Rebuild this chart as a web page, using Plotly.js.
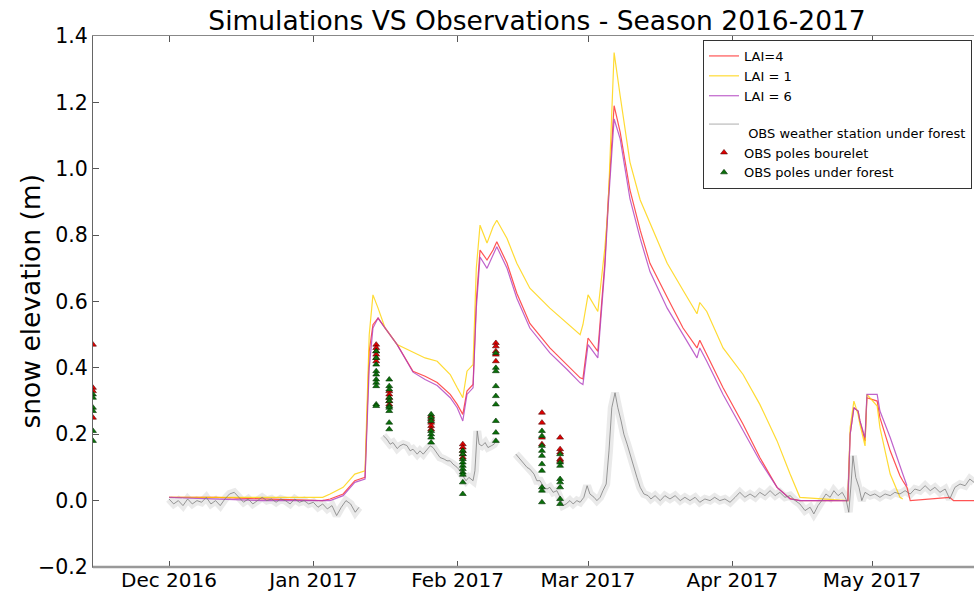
<!DOCTYPE html>
<html>
<head>
<meta charset="utf-8">
<script src="https://cdn.plot.ly/plotly-3.0.1.min.js"></script>
<style>html,body{margin:0;padding:0;background:#fff;}#chart{width:974px;height:592px;}</style>
</head>
<body>
<div id="chart"></div>
<script>
// ---- DATA (x values are days counted from 2016-12-01) ----
const monthTickDates = ['2016-12-01','2017-01-01','2017-02-01','2017-03-01','2017-04-01','2017-05-01'];
const monthTickLabels = ['Dec 2016','Jan 2017','Feb 2017','Mar 2017','Apr 2017','May 2017'];
const xRangeDays = [-16.33, 172.9];

const simDays = [0,10,20,33,34.6, 37.4,39.9,42.1,43.0,43.8, 44.9,46.4,49.0,52.4,55.0, 57.6,60.4,61.9,63.1,64.0,
  65.3,66.0,66.8,68.3,69.6, 70.4,72.6,74.7,77.5,81.8, 85.5,88.3,88.9,90.0,92.1, 93.6,94.3,95.6,96.9,99.0,
  101.2,103.3,107.0,110.4,113.4, 114.0,115.5,119.0,123.3,126.9, 130.6,133.4,135.5,145.8,146.3, 147.1,148.0,148.4,149.5,149.9,
  152.1,152.7,154.9,157.0,157.6, 158.5,159.2,167.7,168.5,173];

const lai4 = [0.01,0.01,0.005,0.0,0.005, 0.02,0.06,0.07,0.45,0.53, 0.55,0.52,0.47,0.39,0.375, 0.356,0.32,0.29,0.26,0.33,
  0.35,0.6,0.755,0.725,0.755, 0.78,0.715,0.625,0.534,0.46, 0.41,0.37,0.367,0.49,0.45, 0.715,0.9,1.19,1.11,0.936,
  0.815,0.715,0.613,0.52,0.46, 0.483,0.44,0.34,0.23,0.13, 0.04,0.006,0.0,0.0,0.2, 0.28,0.27,0.24,0.18,0.31,
  0.30,0.25,0.15,0.075,0.06, 0.04,0.0,0.01,0.0,0.0];

const lai1 = [0.01,0.01,0.01,0.01,0.02, 0.04,0.08,0.09,0.5,0.62, 0.58,0.52,0.47,0.447,0.43, 0.42,0.38,0.34,0.31,0.39,
  0.41,0.7,0.83,0.776,0.825, 0.845,0.79,0.715,0.64,0.58, 0.534,0.5,0.53,0.62,0.57, 0.76,0.88,1.35,1.22,1.02,
  0.906,0.835,0.715,0.634,0.563, 0.597,0.57,0.46,0.38,0.29, 0.18,0.08,0.01,0.0,0.22, 0.30,0.26,0.23,0.165,0.32,
  0.285,0.22,0.08,0.01,0.005, null,null,null,null,null];

const lai6 = [0.01,0.005,0.0,0.0,0.0, 0.015,0.055,0.065,0.4,0.52, 0.55,0.52,0.47,0.387,0.365, 0.347,0.31,0.28,0.24,0.32,
  0.34,0.58,0.734,0.70,0.74, 0.765,0.70,0.61,0.52,0.445, 0.395,0.355,0.35,0.47,0.43, 0.70,0.88,1.15,1.09,0.91,
  0.79,0.69,0.58,0.50,0.43, 0.46,0.42,0.32,0.21,0.12, 0.04,0.005,0.0,0.0,0.2, 0.28,0.27,0.24,0.19,0.32,
  0.32,0.27,0.19,0.1,0.08, 0.045,null,null,null,null];

// weather station (null = data gap)
const obsDays = [0,1,2,3,4,5,6,7,8,9,10,11,12,13,14,15,16,17,18,19,20,21,22,23,24,25,26,27,28,29,30,31,32,33,34,35,36,37,38,39,40,40.8,
  43.5,
  46.0,46.8,47.5,48.1,49.0,49.6,50.3,51.1,51.8,52.4,53.3,53.9,54.6,55.4,56.1,56.7,57.6,58.2,59.1,59.7,60.4,61.0,61.9,62.5,63.1,63.8,64.4,65.3,65.7,66.2,66.6,67.2,67.9,68.5,69.2,69.8,70.4,
  72.5,
  74.5,75.4,76.2,76.9,77.5,78.4,79.0,79.7,80.5,81.2,81.8,82.5,83.3,84.0,84.6,85.3,86.1,86.8,87.6,88.3,89.1,89.8,90.4,91.3,91.9,92.6,93.2,93.9,94.5,95.1,95.8,96.4,97.1,97.7,98.4,99.0,99.9,100.5,101.2,102.0,102.9,
  103.5,104.4,105.5,106.5,107.6,108.7,109.8,110.8,111.9,113.0,114.0,115.1,116.2,117.2,118.3,119.4,120.5,121.6,122.6,123.7,124.8,125.9,126.9,128.0,129.1,130.2,131.2,132.3,133.4,134.5,135.5,136.6,137.7,138.5,139.4,140.2,141.1,142.0,142.8,143.7,144.6,145.4,146.0,146.5,146.9,147.5,148.2,148.8,149.5,150.6,151.6,152.7,153.8,154.9,155.9,157.0,158.1,159.2,160.2,161.3,162.4,163.5,164.5,165.6,166.7,167.7,168.8,169.9,171.0,172.0,172.9];
const obsValues = [0.005,-0.01,0.0,-0.015,0.005,-0.01,0.0,-0.005,0.01,-0.01,0.0,-0.015,0.005,0.02,0.025,0.01,-0.005,0.005,-0.01,0.0,0.01,0.0,0.005,-0.005,0.005,0.0,-0.01,0.005,-0.005,0.0,-0.01,-0.005,-0.02,-0.01,-0.025,-0.015,-0.045,-0.02,0.0,-0.01,-0.035,-0.02,
  null,
  0.196,0.185,0.17,0.175,0.157,0.165,0.17,0.166,0.15,0.155,0.14,0.15,0.14,0.155,0.165,0.16,0.14,0.13,0.125,0.12,0.12,0.11,0.1,0.09,0.075,0.06,0.07,0.06,0.09,0.21,0.17,0.165,0.175,0.16,0.165,0.17,0.185,
  null,
  0.14,0.125,0.115,0.1,0.095,0.08,0.06,0.06,0.04,0.035,0.04,0.025,0.03,0.01,-0.015,-0.01,0.0,-0.01,0.0,-0.005,0.01,0.045,0.02,0.01,0.0,0.01,0.03,0.05,0.15,0.28,0.325,0.28,0.24,0.2,0.17,0.14,0.1,0.07,0.04,0.02,0.015,
  0.005,0.015,0.0,0.015,0.005,0.015,0.0,0.01,0.0,0.01,-0.005,0.005,0.0,0.01,0.0,0.005,-0.005,0.01,0.025,0.01,0.02,0.01,0.025,0.015,0.03,0.015,0.025,0.01,0.015,0.0,-0.01,-0.03,-0.02,-0.04,-0.015,0.0,0.02,0.01,0.03,0.015,0.025,0.005,-0.035,0.05,0.135,0.07,0.04,0.0,0.025,0.015,0.02,0.01,0.02,0.015,0.025,0.02,0.03,0.02,0.035,0.03,0.045,0.03,0.04,0.025,0.035,0.005,0.04,0.05,0.045,0.065,0.055];

// snow poles: one measurement day per group, several poles per day
const poleDays = [-16.33, 44.5, 47.3, 56.3, 63.1, 70.2, 80.1, 84.0];
const polesBourelet = [
  [0.47,0.34,0.33,0.25],
  [0.47,0.46,0.45,0.44,0.43,0.42],
  [0.33,0.32,0.31,0.30,0.29],
  [0.255,0.245,0.235,0.225,0.215],
  [0.17,0.16,0.15,0.14,0.13],
  [0.475,0.465,0.45,0.44,0.42],
  [0.265,0.235,0.19,0.17],
  [0.19,0.155,0.145,0.125,0.12]
];
const polesForest = [
  [0.32,0.31,0.28,0.27,0.21,0.18],
  [0.45,0.43,0.41,0.39,0.38,0.365,0.355,0.345,0.29,0.285],
  [0.365,0.345,0.335,0.31,0.30,0.285,0.28,0.27,0.235,0.215],
  [0.26,0.25,0.24,0.21,0.20,0.19,0.175],
  [0.15,0.14,0.125,0.115,0.105,0.095,0.085,0.078,0.055,0.02],
  [0.445,0.40,0.39,0.345,0.315,0.29,0.24,0.205,0.18],
  [0.21,0.195,0.165,0.15,0.135,0.11,0.09,0.04,0.03,-0.005],
  [0.14,0.115,0.105,0.065,0.055,0.04,0.005,-0.01]
];

// ---- helpers ----
const ORIGIN = Date.UTC(2016, 11, 1);
function pad(n){ return (n < 10 ? '0' : '') + n; }
function dayToDate(d){
  const t = new Date(ORIGIN + d * 86400000);
  return t.getUTCFullYear() + '-' + pad(t.getUTCMonth()+1) + '-' + pad(t.getUTCDate()) + ' ' +
         pad(t.getUTCHours()) + ':' + pad(t.getUTCMinutes()) + ':' + pad(t.getUTCSeconds());
}
function expandPoles(days, groups){
  const xs = [], ys = [];
  groups.forEach((g, i) => g.forEach(v => { xs.push(dayToDate(days[i])); ys.push(v); }));
  return {xs, ys};
}
const simX = simDays.map(dayToDate);
const obsX = obsDays.map(dayToDate);
const pb = expandPoles(poleDays, polesBourelet);
const pf = expandPoles(poleDays, polesForest);

const FONT = 'DejaVu Sans, sans-serif';

const traces = [
  {x: obsX, y: obsValues, type: 'scatter', mode: 'lines', showlegend: false, hoverinfo: 'skip',
   line: {color: 'rgba(205,205,205,0.42)', width: 8}},
  {x: simX, y: lai4, type: 'scatter', mode: 'lines', name: 'LAI=4',
   line: {color: 'rgba(255,40,40,0.8)', width: 1.2}},
  {x: simX, y: lai1, type: 'scatter', mode: 'lines', name: 'LAI = 1',
   line: {color: 'rgba(255,210,0,0.8)', width: 1.2}},
  {x: simX, y: lai6, type: 'scatter', mode: 'lines', name: 'LAI = 6',
   line: {color: 'rgba(175,60,190,0.8)', width: 1.2}},
  {x: obsX, y: obsValues, type: 'scatter', mode: 'lines', showlegend: false,
   line: {color: 'rgba(120,120,120,0.75)', width: 1}},
  {x: [null], y: [null], type: 'scatter', mode: 'lines', name: '<br> OBS weather station under forest',
   line: {color: '#bbbbbb', width: 1.2}},
  {x: pb.xs, y: pb.ys, type: 'scatter', mode: 'markers', name: 'OBS poles bourelet',
   marker: {symbol: 'triangle-up', size: 6, color: '#e00000', line: {color: '#550000', width: 0.6}}},
  {x: pf.xs, y: pf.ys, type: 'scatter', mode: 'markers', name: 'OBS poles under forest',
   marker: {symbol: 'triangle-up', size: 6, color: '#0a700a', line: {color: '#033003', width: 0.6}}}
];

const layout = {
  width: 974, height: 592,
  margin: {l: 93, r: 0, t: 36, b: 25, pad: 0},
  paper_bgcolor: '#fff', plot_bgcolor: '#fff',
  font: {family: FONT, color: '#000'},
  showlegend: true,
  title: {text: 'Simulations VS Observations - Season 2016-2017', font: {family: FONT, size: 26.5, color: '#000'},
          xref: 'paper', x: 0.504, xanchor: 'center', yref: 'container', y: 0.965, yanchor: 'middle'},
  xaxis: {
    type: 'date', range: xRangeDays.map(dayToDate),
    tickmode: 'array', tickvals: monthTickDates, ticktext: monthTickLabels,
    ticks: 'inside', ticklen: 6, tickcolor: '#555', tickwidth: 1,
    tickfont: {family: FONT, size: 20, color: '#000'},
    ticklabelstandoff: -5,
    showline: true, linecolor: '#888', linewidth: 1, mirror: 'ticks',
    showgrid: false, zeroline: false
  },
  yaxis: {
    range: [-0.2, 1.4], tickmode: 'linear', tick0: -0.2, dtick: 0.2, tickformat: '.1f',
    ticks: 'inside', ticklen: 6, tickcolor: '#555', tickwidth: 1,
    tickfont: {family: FONT, size: 20.5, color: '#000'},
    showline: true, linecolor: '#666', linewidth: 1,
    showgrid: false, zeroline: false
  },
  annotations: [
    {text: 'snow elevation (m)', xref: 'paper', yref: 'paper', x: -0.0715, y: 0.5,
     xanchor: 'center', yanchor: 'middle', textangle: -90, showarrow: false,
     font: {family: FONT, size: 26.5, color: '#000'}}
  ],
  legend: {
    x: 0.6924, y: 0.9925, xanchor: 'left', yanchor: 'top',
    bgcolor: '#fff', bordercolor: '#333', borderwidth: 1,
    font: {family: FONT, size: 13, color: '#000'},
    tracegroupgap: 0, itemwidth: 30, valign: 'middle'
  },
  shapes: [
    {type: 'line', xref: 'paper', yref: 'paper', x0: 0, x1: 1, y0: 0, y1: 0,
     line: {color: '#999', width: 2.5}}
  ]
};

Plotly.newPlot('chart', traces, layout, {displayModeBar: false, staticPlot: true});
</script>
</body>
</html>
